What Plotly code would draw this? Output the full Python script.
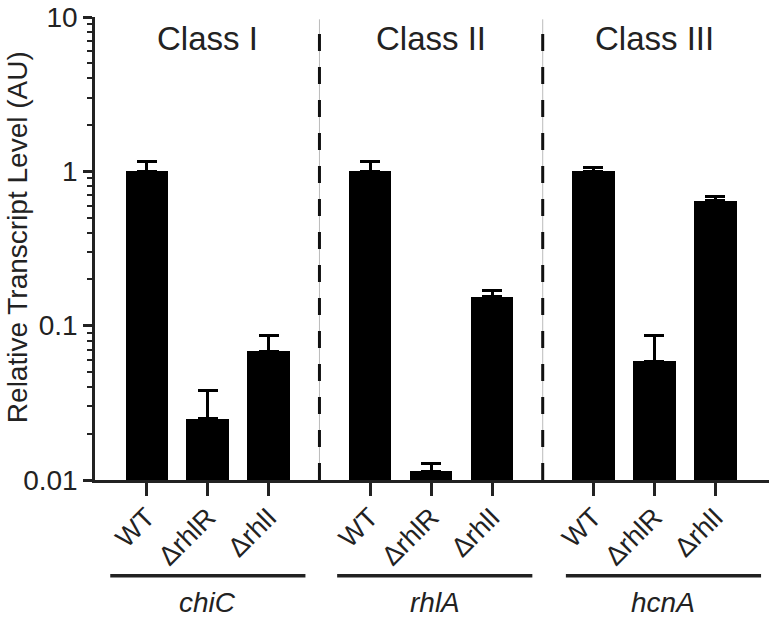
import plotly.graph_objects as go

# ---- data ----
classes = ["Class I", "Class II", "Class III"]
genes = ["chiC", "rhlA", "hcnA"]
strains = ["WT", "ΔrhlR", "ΔrhlI"]
means = [
    [1.00, 0.025, 0.0685],   # chiC
    [1.00, 0.0114, 0.154],   # rhlA
    [1.00, 0.059, 0.645],    # hcnA
]
upper = [
    [1.16, 0.038, 0.086],
    [1.15, 0.0128, 0.168],
    [1.06, 0.087, 0.686],
]
ytick_vals = [0.01, 0.1, 1, 10]
ytick_text = ["0.01", "0.1", "1", "10"]

# ---- layout constants ----
FONT = "Liberation Sans, Arial, sans-serif"
W, H = 771, 618
ML, MR, MT, MB = 95, 2, 11, 138
group_step = 3.66
bar_w = 0.7
underline_half = 1.6
underline_shift = [0.0, 0.06, 0.15]

xs, ys, errs, labels = [], [], [], []
group_centers = []
for g in range(len(genes)):
    base = g * group_step
    group_centers.append(base + 1)
    for i, s in enumerate(strains):
        xs.append(base + i)
        ys.append(means[g][i])
        errs.append(upper[g][i] - means[g][i])
        labels.append(s)

fig = go.Figure()
fig.add_trace(go.Bar(
    x=xs, y=ys, width=bar_w,
    marker=dict(color="black", line=dict(width=0)),
    error_y=dict(type="data", symmetric=False, array=errs,
                 arrayminus=[0] * len(errs), color="black",
                 thickness=3, width=10),
    showlegend=False, hoverinfo="skip",
))

shapes = []
# dashed separators
for g in range(len(genes) - 1):
    xm = (xs[g * 3 + 2] + xs[(g + 1) * 3]) / 2
    shapes.append(dict(type="line", xref="x", yref="paper", x0=xm, x1=xm,
                       y0=0, y1=0.995, line=dict(color="#bbbbbb", width=1)))
    shapes.append(dict(type="line", xref="x", yref="paper", x0=xm, x1=xm,
                       y0=0, y1=0.995,
                       line=dict(color="#111111", width=3, dash="17px,16px")))

plot_h = H - MT - MB
plot_w = W - ML - MR
def py(pix):
    return (H - MB - pix) / plot_h

annotations = []
for g, c in enumerate(group_centers):
    cx = c + underline_shift[g]
    shapes.append(dict(type="line", xref="x", yref="paper",
                       x0=cx - underline_half, x1=cx + underline_half,
                       y0=py(577), y1=py(577),
                       line=dict(color="#222222", width=3.5)))
    annotations.append(dict(x=cx, y=py(604), xref="x", yref="paper",
                            text="<i>%s</i>" % genes[g], showarrow=False,
                            font=dict(family=FONT, size=28, color="#222222"),
                            xanchor="center", yanchor="middle"))
    annotations.append(dict(x=c, y=py(33), xref="x", yref="paper",
                            text=classes[g], showarrow=False,
                            font=dict(family=FONT, size=33, color="#222222"),
                            xanchor="center", yanchor="middle"))

annotations.append(dict(x=(17 - ML) / plot_w, y=py(234), xref="paper", yref="paper",
                        text="Relative Transcript Level (AU)", showarrow=False,
                        textangle=-90,
                        font=dict(family=FONT, size=28, color="#222222"),
                        xanchor="center", yanchor="middle"))

minor_vals = [m * 10 ** e for e in (-2, -1, 0) for m in range(2, 10)]

fig.update_layout(
    width=W, height=H,
    margin=dict(l=ML, r=MR, t=MT, b=MB, pad=0),
    paper_bgcolor="white", plot_bgcolor="white",
    font=dict(family=FONT, color="#222222"),
    shapes=shapes, annotations=annotations,
    bargap=0,
    xaxis=dict(
        range=[-0.85, 10.2], tickmode="array", tickvals=xs, ticktext=labels,
        tickangle=-45, ticks="outside", ticklen=13, tickwidth=2.5,
        tickcolor="#222222", showline=True, linecolor="#222222", linewidth=2.5,
        showgrid=False, zeroline=False, ticklabeloverflow="allow",
        ticklabelstandoff=-5,
        tickfont=dict(family=FONT, size=27, color="#222222"),
    ),
    yaxis=dict(
        type="log", range=[-2, 1], tickmode="array", tickvals=ytick_vals,
        ticktext=ytick_text, ticks="outside", ticklen=9, tickwidth=2.5,
        tickcolor="#222222", showline=True, linecolor="#222222", linewidth=2.5,
        showgrid=False, zeroline=False, ticklabeloverflow="allow",
        tickfont=dict(family=FONT, size=28, color="#222222"),
        minor=dict(tickmode="array", tickvals=minor_vals, ticks="outside",
                   ticklen=5, tickwidth=2, tickcolor="#222222", showgrid=False),
    ),
)

fig.write_html("out.html", config={"displayModeBar": False},
               post_script="document.body.style.margin='0';document.body.style.overflow='hidden';")
